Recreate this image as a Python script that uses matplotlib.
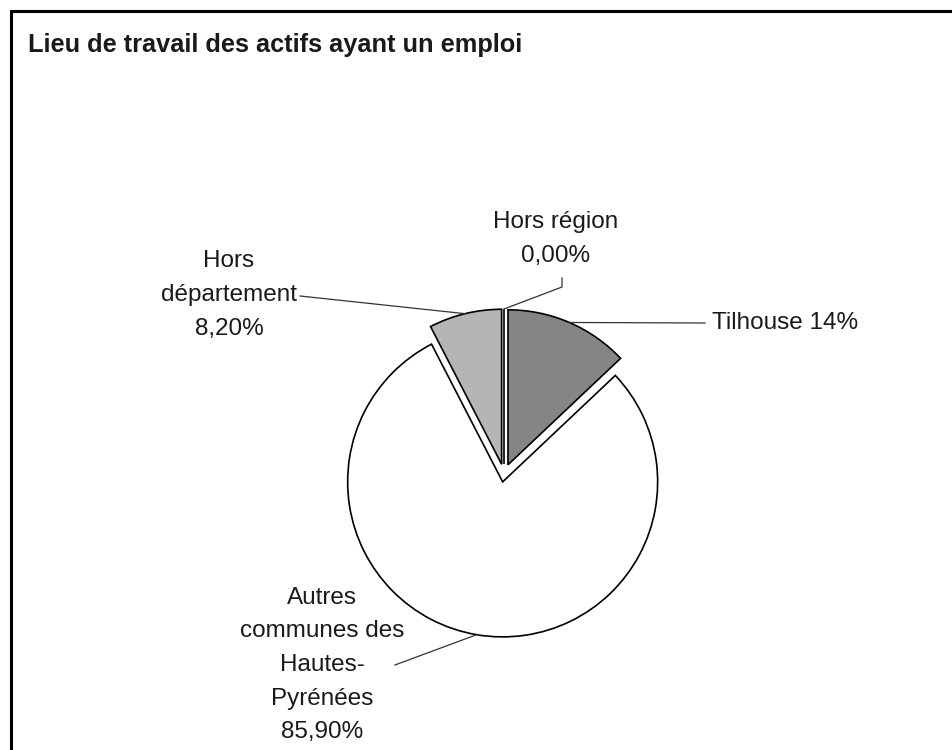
import numpy as np
import matplotlib.pyplot as plt

plt.rcParams['font.family'] = ['Liberation Sans', 'DejaVu Sans']

title = "Lieu de travail des actifs ayant un emploi"
categories = ["Tilhouse", "Autres communes des Hautes-Pyrénées", "Hors département", "Hors région"]
values = [14, 85.9, 8.2, 0]
label_texts = ["Tilhouse 14%",
               "Autres\ncommunes des\nHautes-\nPyrénées\n85,90%",
               "Hors\ndépartement\n8,20%",
               "Hors région\n0,00%"]
colors = ["#858585", "white", "#b5b5b5", "#b5b5b5"]

H = 750  # work in pixel coords, y up

fig = plt.figure(figsize=(9.52, 7.5), dpi=100)
ax = fig.add_axes([0, 0, 1, 1])

wedges, _ = ax.pie(values, colors=colors, startangle=90, counterclock=False,
                   radius=155, center=(504, H - 474), explode=[10, 8, 10, 10],
                   wedgeprops=dict(edgecolor="black", linewidth=1.2))
ax.set_xlim(0, 952)
ax.set_ylim(0, H)
ax.axis("off")


def arc_point(w):
    t = np.deg2rad((w.theta1 + w.theta2) / 2)
    return w.center[0] + w.r * np.cos(t), w.center[1] + w.r * np.sin(t)


txt = dict(fontsize=17.5, color="#1a1a1a", linespacing=1.68)

# label positions (x, y from top) and leader start points
label_pos = [(712, 323), (322, 665), (229, 295), (556, 239)]
label_ha = ["left", "center", "center", "center"]
leader_start = [[(705, 323)], [(395, 665)], [(300, 296)], [(562, 278), (562, 287)]]

for w, text, (lx, ly), ha, starts in zip(wedges, label_texts, label_pos, label_ha, leader_start):
    ax.text(lx, H - ly, text, ha=ha, va="center", multialignment="center", **txt)
    px, py = arc_point(w)
    xs = [s[0] for s in starts] + [px]
    ys = [H - s[1] for s in starts] + [py]
    ax.plot(xs, ys, color="#333333", lw=0.9)

ax.text(28, H - 45, title, fontsize=18.3, fontweight="bold", va="center", color="#1a1a1a")

# frame (left and top only, as in the scan)
ax.plot([10.5, 10.5, 952], [0, H - 11, H - 11], color="black", lw=2.2,
        solid_joinstyle="miter", clip_on=False)

fig.savefig("out.png", dpi=100)
